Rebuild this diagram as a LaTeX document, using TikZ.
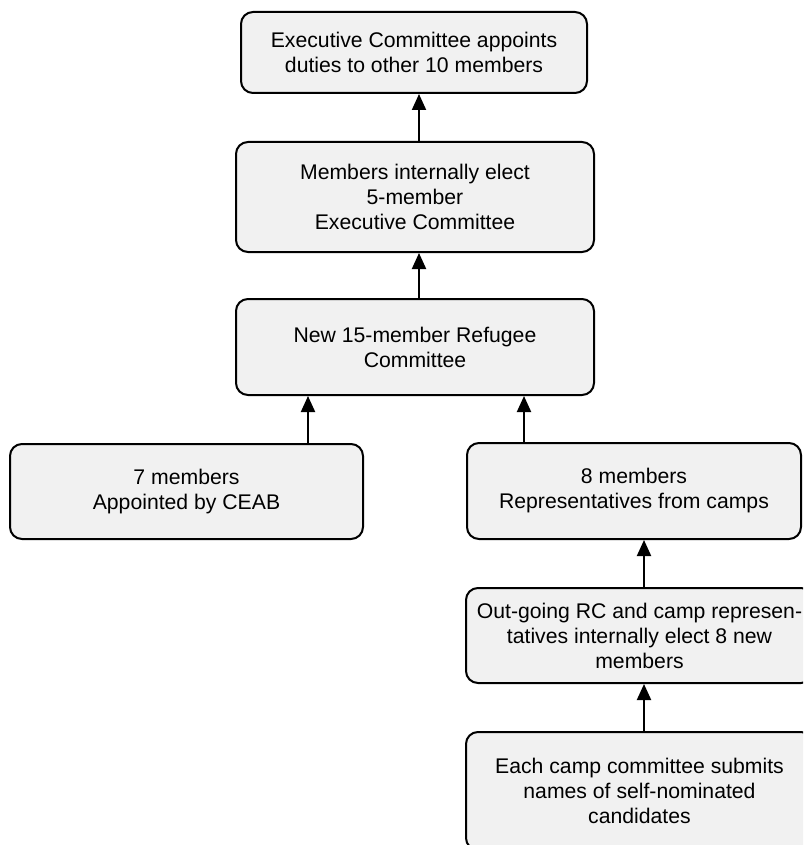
\documentclass[tikz,border=0pt]{standalone}
\usepackage{fontspec}
\setmainfont{Liberation Sans}
\usetikzlibrary{arrows.meta}
\definecolor{boxfill}{RGB}{241,241,241}
\tikzset{
  stagebox/.style={draw=black, line width=2pt, rounded corners=12pt, fill=boxfill,
    align=center, inner sep=0pt, font=\fontsize{21.2}{25}\selectfont},
  uparrow/.style={draw=black, line width=2pt, -{Triangle[width=14pt,length=16pt]}}
}
\begin{document}
\begin{tikzpicture}[x=1pt, y=-1pt]
\clip (0,0) rectangle (803,845);
\useasboundingbox (0,0) rectangle (803,845);

% stages of the election process
\node[stagebox, minimum width=346pt, minimum height=81pt] (exec) at (414,52.5)
  {Executive Committee appoints\\duties to other 10 members};
\node[stagebox, minimum width=358pt, minimum height=110pt] (elect) at (415,197)
  {Members internally elect\\5-member\\Executive Committee};
\node[stagebox, minimum width=358pt, minimum height=96pt] (rc) at (415,347)
  {New 15-member Refugee\\Committee};
\node[stagebox, minimum width=353pt, minimum height=95pt] (ceab) at (186.5,491.5)
  {7 members\\Appointed by CEAB};
\node[stagebox, minimum width=334pt, minimum height=96pt] (camps) at (634,491)
  {8 members\\Representatives from camps};
\node[stagebox, minimum width=347pt, minimum height=95pt] (outgoing) at (639.5,635.5)
  {Out-going RC and camp represen-\\tatives internally elect 8 new\\members};
\node[stagebox, minimum width=347pt, minimum height=118pt] (submit) at (639.5,791)
  {Each camp committee submits\\names of self-nominated\\candidates};

% connector columns
\coordinate (xmid) at (419,0);
\coordinate (xleft) at (308,0);
\coordinate (xright) at (524,0);
\coordinate (xcamp) at (644,0);

\draw[uparrow] (xmid |- elect.north) -- (xmid |- exec.south);
\draw[uparrow] (xmid |- rc.north) -- (xmid |- elect.south);
\draw[uparrow] (xleft |- ceab.north) -- (xleft |- rc.south);
\draw[uparrow] (xright |- camps.north) -- (xright |- rc.south);
\draw[uparrow] (xcamp |- outgoing.north) -- (xcamp |- camps.south);
\draw[uparrow] (xcamp |- submit.north) -- (xcamp |- outgoing.south);
\end{tikzpicture}
\end{document}
